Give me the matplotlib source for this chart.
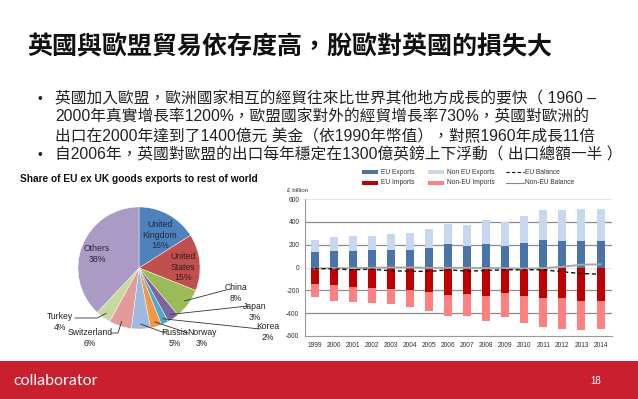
import matplotlib
matplotlib.use('Agg')
import matplotlib.pyplot as plt
import numpy as np
from matplotlib.patches import Rectangle

plt.rcParams['font.family'] = ['Liberation Sans', 'Noto Sans CJK TC', 'DejaVu Sans']

# --- slide text ---
title = '英國與歐盟貿易依存度高，脫歐對英國的損失大'
bullet_lines = [
    ('•', '英國加入歐盟，歐洲國家相互的經貿往來比世界其他地方成長的要快（ 1960 –'),
    ('', '2000年真實增長率1200%，歐盟國家對外的經貿增長率730%，英國對歐洲的'),
    ('', '出口在2000年達到了1400億元 美金（依1990年幣值），對照1960年成長11倍'),
    ('•', '自2006年，英國對歐盟的出口每年穩定在1300億英鎊上下浮動（ 出口總額一半 ）'),
]
page_no = '18'

# --- pie data ---
pie_title = 'Share of EU ex UK goods exports to rest of world'
countries = ['United\nKingdom', 'United\nStates', 'China', 'Japan', 'Korea',
             'Norway', 'Russia', 'Switzerland', 'Turkey', 'Others']
shares = [16, 15, 8, 3, 2, 3, 5, 6, 4, 38]
pie_colors = ['#4F81BD', '#C0504D', '#9BBB59', '#8064A2', '#4BACC6',
              '#F79646', '#9DB9E0', '#E29B99', '#C5D9A1', '#A99BC4']

# --- bar data (GBP billion) ---
years = ['1999', '2000', '2001', '2002', '2003', '2004', '2005', '2006',
         '2007', '2008', '2009', '2010', '2011', '2012', '2013', '2014']
eu_exports = [132, 147, 147, 156, 156, 156, 174, 209, 191, 209, 191, 215, 238, 229, 229, 229]
non_eu_exports = [106, 121, 129, 120, 141, 147, 167, 176, 185, 209, 209, 232, 262, 271, 286, 280]
eu_imports = [-147, -156, -171, -182, -188, -197, -215, -241, -232, -247, -224, -247, -268, -271, -291, -291]
non_eu_imports = [-109, -135, -132, -130, -130, -147, -164, -185, -192, -221, -208, -238, -253, -267, -256, -247]
eu_balance = [-9, -12, -20, -15, -29, -32, -35, -20, -32, -26, -20, -20, -20, -38, -53, -59]
non_eu_balance = [-9, -6, -6, -3, 0, 0, -3, -3, -3, -6, -6, -10, -6, 6, 25, 28]

W, H = 638, 399
fig = plt.figure(figsize=(W / 100, H / 100), dpi=100)

# page overlay in pixel coords, drawn above the chart axes
page = fig.add_axes([0, 0, 1, 1])
page.set_xlim(0, W)
page.set_ylim(H, 0)
page.axis('off')
page.set_zorder(5)

page.text(27, 47, title, fontsize=18, fontweight='bold', va='center', ha='left', color='#111111')
for yy, (b, line) in zip([99, 117, 136, 155], bullet_lines):
    if b:
        page.text(37, yy, b, fontsize=10, va='center', ha='left', color='#222222')
    page.text(55, yy, line, fontsize=11.3, va='center', ha='left', color='#222222')

# footer
page.add_patch(Rectangle((0, 361), W, 38, color='#C91F2E', lw=0))
page.text(13, 381, 'collaborator', fontsize=11.5, color='white', va='center', ha='left',
          family=['Lato', 'DejaVu Sans'])
page.text(596, 381, page_no, fontsize=7, color='white', va='center', ha='center')

# pie title
page.text(20, 179, pie_title, fontsize=7.3, fontweight='bold', va='center', ha='left', color='#111111')

# --- pie ---
cx, cy, r = 139, 268, 61
pax = fig.add_axes([(cx - r) / W, (H - cy - r) / H, 2 * r / W, 2 * r / H])
wedges, _ = pax.pie(shares, colors=pie_colors, startangle=90, counterclock=False,
                    wedgeprops=dict(edgecolor='white', linewidth=0.3))
pax.set_aspect('auto')
pax.set_xlim(-1, 1)
pax.set_ylim(-1, 1)

def pct(i):
    return f'{shares[i]}%'

# inside labels (pixel positions)
page.text(160, 235, f'{countries[0]}\n{pct(0)}', fontsize=6.3, ha='center', va='center',
          color='#1F2A44', linespacing=1.25)
page.text(183, 267, f'{countries[1]}\n{pct(1)}', fontsize=6.3, ha='center', va='center',
          color='#3A1A1A', linespacing=1.25)
page.text(97, 254, f'{countries[9]}\n{pct(9)}', fontsize=6.3, ha='center', va='center',
          color='#2A2A3A', linespacing=1.25)

# outside labels with leader lines
cum = np.cumsum([0] + shares)
def edge_pt(i, rr=0.92):
    mid = 90 - 360 * (cum[i] + cum[i + 1]) / 2 / 100
    a = np.deg2rad(mid)
    return cx + rr * r * np.cos(a), cy - rr * r * np.sin(a)

outside = {
    2: ((236, 293), [(226, 290)]),
    3: ((255, 312), [(248, 306)]),
    4: ((268, 332), [(260, 329)]),
    5: ((202, 338), [(188, 333)]),
    6: ((175, 338), [(165, 333)]),
    7: ((90, 338), [(118, 333), (111, 333)]),
    8: ((60, 322), [(97, 318), (75, 318)]),
}
for i, (tp, path) in outside.items():
    ex, ey = edge_pt(i)
    xs = [ex] + [p[0] for p in path]
    ys = [ey] + [p[1] for p in path]
    page.plot(xs, ys, color='#333333', lw=0.6)
    page.text(tp[0], tp[1], f'{countries[i]}\n{pct(i)}', fontsize=6.2, ha='center', va='center',
              color='#222222', linespacing=1.3)

# --- bars ---
ax = fig.add_axes([305 / W, (H - 336) / H, (612 - 305) / W, (336 - 199) / H])
x = np.arange(len(years))
bw = 0.42
ax.bar(x, eu_exports, bw, color='#4A73A8', zorder=3)
ax.bar(x, non_eu_exports, bw, bottom=eu_exports, color='#C6D7EE', zorder=3)
ax.bar(x, eu_imports, bw, color='#C00000', zorder=3)
ax.bar(x, non_eu_imports, bw, bottom=eu_imports, color='#FF8080', zorder=3)
ax.plot(x, eu_balance, color='#111111', lw=1.0, ls=(0, (3, 2)), zorder=5)
ax.plot(x, non_eu_balance, color='#A6A6A6', lw=1.4, zorder=4)

ax.set_xlim(-0.5, 15.6)
ax.set_ylim(-600, 600)
for g in [-400, -200, 200, 400]:
    ax.axhline(g, color='#8C8C8C', lw=0.9, zorder=1)
ax.axhline(600, color='#E6E6E6', lw=0.8, zorder=1)
ax.axhline(0, color='#BDBDBD', lw=0.8, ls=':', zorder=2)
for s in ['top', 'right']:
    ax.spines[s].set_visible(False)
for s in ['left', 'bottom']:
    ax.spines[s].set_color('#9A9A9A')
    ax.spines[s].set_linewidth(0.8)
ax.set_xticks(x)
ax.set_xticklabels(years, fontsize=4.8, color='#333333')
ax.set_yticks(np.arange(-600, 601, 200))
ax.set_yticklabels([str(v) for v in range(-600, 601, 200)], fontsize=4.8, color='#333333')
ax.tick_params(length=0, pad=4)
ax.patch.set_alpha(0)

page.text(287, 191, '£ billion', fontsize=4.5, va='center', ha='left', color='#333333')

# legend
leg = [
    (362, 172, 'patch', '#4A73A8', 'EU Exports'),
    (428, 172, 'patch', '#C6D7EE', 'Non EU Exports'),
    (506, 172, 'dash', '#111111', 'EU Balance'),
    (362, 183, 'patch', '#C00000', 'EU Imports'),
    (428, 183, 'patch', '#FF8080', 'Non-EU Imports'),
    (506, 183, 'line', '#888888', 'Non-EU Balance'),
]
for lx, ly, kind, col, lab in leg:
    if kind == 'patch':
        page.add_patch(Rectangle((lx, ly - 1.6), 16, 3.2, color=col, lw=0))
    elif kind == 'dash':
        page.plot([lx, lx + 18], [ly, ly], color=col, lw=0.8, ls=(0, (3, 2)))
    else:
        page.plot([lx, lx + 18], [ly, ly], color=col, lw=0.8)
    page.text(lx + 19, ly, lab, fontsize=4.8, va='center', ha='left', color='#333333')

fig.savefig('out.png', dpi=100)
